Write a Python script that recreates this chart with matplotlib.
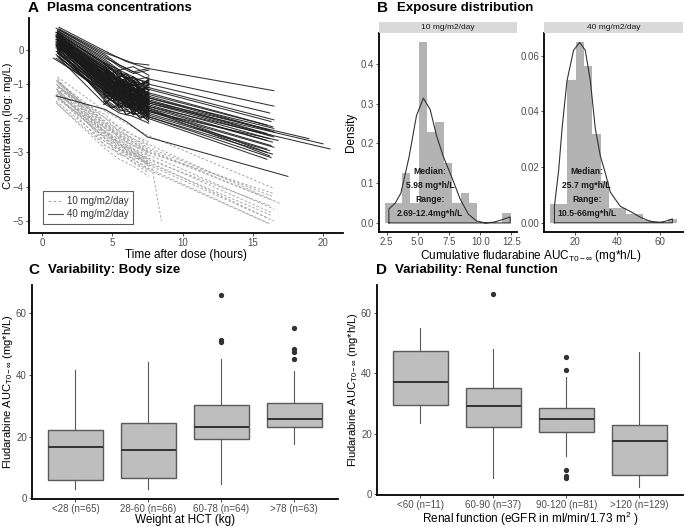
import numpy as np
import matplotlib.pyplot as plt
from matplotlib.lines import Line2D

plt.rcParams['font.family'] = ['Liberation Sans', 'DejaVu Sans']
plt.rcParams['mathtext.fontset'] = 'custom'
plt.rcParams['mathtext.rm'] = 'Liberation Sans'
plt.rcParams['mathtext.it'] = 'Liberation Sans:italic'

# ---- Panel A: concentration-time profiles ----
# 40 mg/m2/day, long profiles: t0, c0, c(4.5h), c(6h), c(7.5h), t_end, c_end
black_long = [
    (1.2, 0.65, -0.05, -0.35, -0.55, 16.5, -1.20),
    (1.1, 0.55, -0.25, -0.55, -0.85, 16.5, -1.65),
    (1.0, 0.50, -0.40, -0.70, -1.00, 16.2, -1.85),
    (1.1, 0.50, -0.45, -0.80, -1.10, 16.5, -2.05),
    (1.1, 0.45, -0.50, -0.85, -1.15, 16.3, -2.10),
    (1.2, 0.40, -0.55, -0.95, -1.25, 16.0, -2.20),
    (1.1, 0.35, -0.65, -1.00, -1.30, 16.4, -2.25),
    (1.2, 0.25, -0.70, -1.10, -1.40, 16.5, -2.30),
    (1.0, 0.30, -0.70, -1.05, -1.35, 16.2, -2.35),
    (1.1, 0.30, -0.75, -1.15, -1.40, 16.5, -2.40),
    (1.2, 0.25, -0.80, -1.20, -1.45, 16.0, -2.45),
    (1.1, 0.20, -0.85, -1.25, -1.50, 16.3, -2.50),
    (1.0, 0.15, -0.90, -1.30, -1.55, 16.5, -2.55),
    (1.1, 0.10, -0.95, -1.30, -1.60, 16.2, -2.60),
    (1.2, 0.05, -1.00, -1.35, -1.65, 16.0, -2.65),
    (1.1, 0.10, -1.00, -1.45, -1.80, 16.8, -2.65),
    (1.1, 0.00, -1.05, -1.40, -1.70, 16.4, -2.70),
    (1.0, -0.05, -1.10, -1.45, -1.75, 16.3, -2.80),
    (1.1, -0.10, -1.15, -1.50, -1.80, 16.5, -2.85),
    (1.2, -0.15, -1.20, -1.55, -1.85, 16.0, -2.90),
    (1.1, -0.20, -1.25, -1.60, -1.90, 16.2, -2.95),
    (1.1, 0.15, -0.95, -1.35, -1.70, 16.0, -3.00),
    (1.0, -0.25, -1.30, -1.65, -1.95, 16.4, -3.05),
    (1.1, 0.35, -0.90, -1.40, -1.75, 16.2, -3.10),
    (0.8, -0.25, -1.20, -1.60, -1.95, 16.3, -3.15),
    (1.2, 0.20, -1.10, -1.60, -2.00, 16.0, -3.20),
    (1.1, 0.45, -0.80, -1.20, -1.50, 19.0, -2.60),
    (1.0, 0.40, -0.85, -1.25, -1.55, 20.0, -2.75),
    (1.1, 0.30, -0.95, -1.35, -1.65, 20.5, -2.90),
    (1.0, -1.35, -1.75, -2.10, -2.55, 17.5, -3.70),
]
# 40 mg/m2/day, profiles sampled to ~8 h: t0, c0, c(4.5h), c(5.5h), c(6.5h), c(7.6h)
black_short = [
    (1.1, 0.45, -0.60, -0.90, -1.20, -1.10),
    (1.0, 0.30, -0.80, -1.00, -1.40, -1.30),
    (1.2, 0.20, -0.90, -1.30, -1.20, -1.60),
    (1.1, 0.05, -1.00, -1.20, -1.60, -1.50),
    (1.0, 0.40, -0.50, -0.90, -0.80, -1.20),
    (1.1, -0.10, -1.20, -1.50, -1.40, -1.80),
    (1.2, 0.35, -0.70, -1.10, -1.30, -1.00),
    (1.0, 0.25, -0.60, -1.00, -0.90, -1.40),
    (1.1, 0.00, -1.10, -1.40, -1.70, -1.60),
    (1.1, 0.15, -0.70, -1.20, -1.00, -1.30),
    (1.0, 0.50, -0.40, -0.70, -0.90, -0.80),
    (1.2, -0.20, -1.30, -1.70, -1.60, -2.00),
    (1.1, 0.10, -0.90, -1.00, -1.30, -1.70),
    (1.0, 0.35, -0.80, -1.30, -1.10, -1.50),
    (1.1, -0.05, -1.40, -1.60, -1.90, -1.80),
    (1.2, 0.30, -0.55, -1.00, -1.20, -1.10),
    (1.0, 0.20, -1.00, -1.10, -1.50, -1.40),
    (1.1, 0.40, -0.90, -1.20, -1.40, -1.90),
    (1.1, 0.55, -0.30, -0.60, -0.50, -0.75),
    (1.0, 0.10, -1.50, -1.80, -1.70, -2.10),
    (1.2, 0.60, -0.10, -0.25, -0.40, -0.45),
    (1.1, 0.25, -1.20, -1.40, -1.30, -1.70),
    (1.0, 0.62, -0.20, -0.50, -0.70, -0.60),
    (1.1, 0.48, -0.45, -0.75, -0.95, -1.05),
    (1.2, 0.42, -0.65, -0.85, -1.15, -1.25),
    (1.0, 0.38, -0.75, -1.05, -0.95, -1.35),
    (1.1, 0.28, -0.85, -1.15, -1.45, -1.35),
    (1.2, 0.18, -0.95, -1.25, -1.15, -1.55),
    (1.0, 0.12, -1.05, -1.35, -1.55, -1.45),
    (1.1, 0.02, -1.15, -1.45, -1.35, -1.75),
    (1.2, -0.08, -1.25, -1.55, -1.75, -1.65),
    (1.0, -0.15, -1.35, -1.65, -1.55, -1.95),
    (1.1, 0.52, -0.35, -0.65, -0.85, -0.95),
    (1.2, 0.32, -0.55, -0.95, -1.05, -0.95),
    (1.0, 0.22, -0.75, -0.95, -1.25, -1.15),
    (1.1, 0.12, -0.85, -1.05, -1.35, -1.25),
    (1.2, 0.08, -1.05, -1.25, -1.45, -1.65),
    (1.0, 0.44, -0.65, -1.15, -0.95, -1.45),
    (1.1, 0.36, -0.95, -1.35, -1.15, -1.55),
    (1.2, 0.26, -1.15, -1.45, -1.65, -1.85),
    (1.0, 0.16, -1.25, -1.35, -1.65, -1.55),
    (1.1, -0.02, -1.45, -1.75, -1.85, -2.05),
    (1.2, 0.58, -0.15, -0.45, -0.65, -0.55),
    (1.0, 0.05, -0.60, -0.85, -1.05, -0.95),
    (1.1, 0.30, -1.05, -1.20, -1.55, -1.85),
    (1.2, -0.25, -1.60, -1.85, -1.95, -2.15),
]
# 40 mg/m2/day, noisy samples inside the 4.4-7.6 h window
dense_times = [4.4, 5.0, 5.5, 6.0, 6.5, 7.0, 7.6]
black_dense = [
    (-0.50, -0.70, -0.60, -0.90, -0.80, -1.00, -0.90),
    (-0.60, -0.90, -0.80, -1.10, -1.00, -1.20, -1.10),
    (-0.80, -0.70, -1.00, -0.90, -1.20, -1.10, -1.30),
    (-0.90, -1.10, -1.00, -1.30, -1.20, -1.40, -1.30),
    (-1.00, -0.90, -1.20, -1.10, -1.40, -1.30, -1.50),
    (-1.10, -1.30, -1.20, -1.50, -1.40, -1.60, -1.50),
    (-1.20, -1.10, -1.40, -1.30, -1.60, -1.50, -1.70),
    (-1.30, -1.50, -1.40, -1.70, -1.60, -1.80, -1.70),
    (-1.40, -1.30, -1.60, -1.50, -1.80, -1.70, -1.90),
    (-1.50, -1.70, -1.60, -1.90, -1.80, -2.00, -1.90),
    (-0.70, -1.00, -0.80, -1.20, -0.90, -1.30, -1.00),
    (-1.10, -0.90, -1.30, -1.00, -1.50, -1.20, -1.60),
    (-0.60, -0.80, -1.00, -0.80, -1.10, -1.30, -1.20),
    (-1.20, -1.40, -1.10, -1.60, -1.30, -1.70, -1.40),
    (-0.90, -1.20, -1.40, -1.20, -1.50, -1.30, -1.80),
    (-1.60, -1.40, -1.70, -1.50, -1.90, -1.60, -2.00),
    (-0.40, -0.60, -0.80, -0.70, -0.95, -1.10, -0.85),
    (-1.00, -1.30, -1.10, -1.40, -1.20, -1.60, -1.50),
    (-1.30, -1.10, -1.50, -1.30, -1.70, -1.40, -1.80),
    (-0.80, -1.10, -0.90, -1.30, -1.10, -1.40, -1.60),
]
# 10 mg/m2/day, long profiles: t0, c0, c(4.5h), c(7.5h), t_end, c_end
grey_long = [
    (1.1, -0.80, -1.80, -2.50, 16.5, -4.05),
    (1.0, -0.90, -2.00, -2.75, 17.0, -4.50),
    (1.2, -1.00, -2.10, -2.85, 16.5, -4.30),
    (1.1, -1.05, -2.20, -2.95, 16.4, -4.40),
    (1.0, -1.15, -2.30, -3.05, 16.5, -4.65),
    (1.1, -1.20, -2.40, -3.15, 16.3, -4.75),
    (1.2, -1.30, -2.50, -3.25, 16.0, -4.90),
    (1.1, -1.40, -2.60, -3.35, 16.5, -5.00),
    (1.0, -1.50, -2.70, -3.45, 16.3, -5.10),
    (1.1, -1.10, -2.25, -3.00, 16.5, -4.20),
    (1.2, -0.95, -2.15, -2.90, 15.5, -4.25),
    (1.1, -1.25, -2.45, -3.20, 16.2, -4.55),
    (1.0, -1.35, -2.55, -3.30, 16.4, -4.85),
    (1.1, -1.60, -2.80, -3.50, 16.0, -5.05),
]
# 10 mg/m2/day, profiles sampled to ~8 h
grey_short = [
    (1.1, -0.90, -2.20, -2.50, -2.70, -3.00),
    (1.0, -1.00, -2.40, -2.60, -3.00, -3.20),
    (1.2, -1.10, -2.00, -2.40, -2.60, -2.80),
    (1.1, -1.20, -2.60, -2.90, -3.10, -3.40),
    (1.0, -1.30, -2.30, -2.80, -2.90, -3.30),
    (1.1, -0.85, -2.50, -2.70, -3.20, -3.10),
    (1.2, -1.40, -2.80, -3.00, -3.30, -3.60),
    (1.1, -1.05, -2.10, -2.60, -2.80, -3.00),
    (1.0, -1.55, -2.90, -3.20, -3.40, -3.70),
    (1.1, -0.95, -2.30, -2.50, -2.90, -3.10),
    (1.2, -1.25, -2.70, -2.90, -3.20, -3.50),
    (1.1, -1.45, -2.40, -2.90, -3.10, -3.30),
    (1.0, -1.15, -1.90, -2.30, -2.50, -2.70),
    (1.1, -1.35, -2.60, -3.10, -3.00, -3.40),
]
grey_drop_t = [1.1, 4.5, 6.0, 7.8, 8.5]
grey_drop_c = [-1.2, -2.4, -2.9, -3.4, -5.0]

# ---- Panel B: histograms + density curves ----
hist10_edges = np.linspace(2.40, 12.45, 16)
hist10_dens = [0.05, 0.05, 0.125, 0.05, 0.455, 0.228, 0.253, 0.152,
               0.05, 0.075, 0.05, 0.0, 0.0, 0.0, 0.025]
kde10_x = [2.69, 3.2, 3.65, 4.3, 4.9, 5.45, 6.0, 6.5, 7.05, 7.7, 8.4, 9.05,
           9.7, 10.4, 11.1, 11.75, 12.2, 12.4]
kde10_y = [0.035, 0.05, 0.075, 0.165, 0.27, 0.314, 0.285, 0.22, 0.167, 0.117,
           0.06, 0.022, 0.005, 0.0, 0.002, 0.008, 0.013, 0.015]
hist40_edges = np.linspace(8.52, 67.98, 16)
hist40_dens = [0.0068, 0.0068, 0.0512, 0.0648, 0.0565, 0.0318, 0.0149, 0.0052,
               0.0052, 0.003, 0.003, 0.001, 0.0, 0.0, 0.0014]
kde40_x = [10.5, 12.5, 14.1, 16.4, 19.5, 22.4, 25.0, 27.4, 29.7, 32.1, 34.4,
           36.8, 41.5, 46.2, 50.9, 55.6, 60.3, 63.0, 66.0]
kde40_y = [0.006, 0.019, 0.034, 0.051, 0.062, 0.0648, 0.062, 0.051, 0.034,
           0.024, 0.018, 0.011, 0.0059, 0.0041, 0.002, 0.0005, 0.0002, 0.0006, 0.0014]
stat_text = ["Median:\n5.98 mg*h/L\nRange:\n2.69-12.4mg*h/L",
             "Median:\n25.7 mg*h/L\nRange:\n10.5-66mg*h/L"]
stat_median = [5.98, 25.7]
dose_labels = ["10 mg/m2/day", "40 mg/m2/day"]

# ---- Panels C, D: box plot statistics ----
weight_labels = ["<28 (n=65)", "28-60 (n=66)", "60-78 (n=64)", ">78 (n=63)"]
# whislo, q1, median, q3, whishi
weight_stats = [(2.9, 6.1, 16.7, 22.1, 41.7),
                (3.1, 6.5, 15.8, 24.5, 44.1),
                (4.5, 19.4, 23.3, 30.3, 45.2),
                (17.6, 23.3, 25.9, 31.0, 41.3)]
weight_out = [[], [], [66.0, 51.2, 50.6], [55.3, 48.3, 47.6, 45.2]]

renal_labels = ["<60 (n=11)", "60-90 (n=37)", "90-120 (n=81)", ">120 (n=129)"]
renal_stats = [(23.7, 29.7, 37.1, 47.4, 55.1),
               (5.5, 22.3, 29.1, 35.3, 48.2),
               (12.6, 20.5, 24.8, 28.7, 38.8),
               (2.6, 6.3, 17.6, 22.8, 47.0)]
renal_out = [[], [66.2], [45.3, 41.2, 8.2, 6.1, 5.5], []]

TXT = '#4D4D4D'
AUC = r'AUC$_{\mathregular{T0-\infty}}$'


def style(ax):
    for s in ['top', 'right']:
        ax.spines[s].set_visible(False)
    for s in ['left', 'bottom']:
        ax.spines[s].set_linewidth(1.3)
        ax.spines[s].set_color('black')
    ax.tick_params(labelsize=7, colors='#333333', labelcolor=TXT, length=2.5, width=0.6, pad=1)


fig = plt.figure(figsize=(6.85, 5.27), dpi=100)

# ---------- A ----------
axA = fig.add_axes([0.0423, 0.5579, 0.458, 0.408])
dash = (0, (2.5, 2))
for t0, c0, c45, c75, te, ce in grey_long:
    axA.plot([t0, 4.5, 7.5, te], [c0, c45, c75, ce], color='#A6A6A6', lw=0.7, ls=dash)
for t0, c0, c45, c55, c65, c75 in grey_short:
    axA.plot([t0, 4.5, 5.5, 6.5, 7.6], [c0, c45, c55, c65, c75], color='#A6A6A6', lw=0.7, ls=dash)
axA.plot(grey_drop_t, grey_drop_c, color='#A6A6A6', lw=0.7, ls=dash)
for t0, c0, c45, c6, c75, te, ce in black_long:
    axA.plot([t0, 4.5, 6.0, 7.5, te], [c0, c45, c6, c75, ce], color='#1a1a1a', lw=0.75, alpha=0.9)
for t0, c0, c45, c55, c65, c75 in black_short:
    axA.plot([t0, 4.5, 5.5, 6.5, 7.6], [c0, c45, c55, c65, c75], color='#1a1a1a', lw=0.75, alpha=0.9)
for row in black_dense:
    axA.plot(dense_times, row, color='#1a1a1a', lw=0.9)
axA.set_xlim(-0.93, 21.4)
axA.set_ylim(-5.35, 0.92)
axA.set_xticks([0, 5, 10, 15, 20])
axA.set_yticks([0, -1, -2, -3, -4, -5])
style(axA)
axA.set_xlabel("Time after dose (hours)", fontsize=8.5, labelpad=1)
axA.set_ylabel("Concentration (log: mg/L)", fontsize=8, labelpad=0)
handles = [Line2D([], [], color='#A6A6A6', lw=0.8, ls=dash),
           Line2D([], [], color='#555555', lw=0.8)]
leg = axA.legend(handles, dose_labels, loc='lower left', bbox_to_anchor=(0.03, 0.02),
                 fontsize=7, frameon=True, fancybox=False, handlelength=1.5,
                 handletextpad=0.4, borderpad=0.5, labelspacing=0.3)
leg.get_frame().set_edgecolor('#333333')
leg.get_frame().set_linewidth(0.8)
for t in leg.get_texts():
    t.set_color('#333333')

# ---------- B ----------
b_axes = [fig.add_axes([0.5533, 0.5598, 0.2015, 0.3776]),
          fig.add_axes([0.7942, 0.5598, 0.2029, 0.3776])]
hists = [(hist10_edges, hist10_dens, kde10_x, kde10_y), (hist40_edges, hist40_dens, kde40_x, kde40_y)]
lims = [((1.9, 12.95), (-0.0228, 0.478), [2.5, 5.0, 7.5, 10.0, 12.5], [0, 0.1, 0.2, 0.3, 0.4], '%.1f'),
        ((5.6, 71.0), (-0.0033, 0.0682), [20, 40, 60], [0, 0.02, 0.04, 0.06], '%.2f')]
for i, ax in enumerate(b_axes):
    edges, dens, kx, ky = hists[i]
    ax.bar(edges[:-1], dens, width=np.diff(edges), align='edge', color='#B3B3B3', lw=0)
    ax.plot([kx[0]] + kx + [kx[-1], kx[0]], [0] + ky + [0, 0], color='#333333', lw=0.8)
    ax.set_xlim(*lims[i][0])
    ax.set_ylim(*lims[i][1])
    ax.set_xticks(lims[i][2])
    ax.set_yticks(lims[i][3])
    ax.yaxis.set_major_formatter(plt.FormatStrFormatter(lims[i][4]))
    style(ax)
    ax.text(stat_median[i], lims[i][1][1] * 0.16, stat_text[i], ha='center', va='center',
            fontsize=6.2, fontweight='bold', linespacing=1.75, color='#1a1a1a')
    pos = ax.get_position()
    strip = fig.add_axes([pos.x0, 0.9374, pos.width, 0.0209])
    strip.set_facecolor('#D9D9D9')
    strip.set_xticks([])
    strip.set_yticks([])
    for s in strip.spines.values():
        s.set_visible(False)
    strip.text(0.5, 0.5, dose_labels[i], ha='center', va='center', fontsize=6, color='#1a1a1a',
               transform=strip.transAxes)
b_axes[0].set_ylabel("Density", fontsize=8.5, labelpad=3)
fig.text(0.775, 0.514, "Cumulative fludarabine " + AUC + " (mg*h/L)", ha='center', va='center', fontsize=8.5)

# ---------- C, D ----------
def boxpanel(rect, labels, stats, outs, xlabel):
    ax = fig.add_axes(rect)
    bstats = []
    for lab, (lo, q1, med, q3, hi), fl in zip(labels, stats, outs):
        bstats.append(dict(label=lab, whislo=lo, q1=q1, med=med, q3=q3, whishi=hi, fliers=fl))
    ax.bxp(bstats, positions=[1, 2, 3, 4], widths=0.75, patch_artist=True, showcaps=False,
           boxprops=dict(facecolor='#BEBEBE', edgecolor='#5a5a5a', lw=1.0),
           medianprops=dict(color='#333333', lw=1.4),
           whiskerprops=dict(color='#5a5a5a', lw=0.8),
           flierprops=dict(marker='o', markersize=2.8, markerfacecolor='#333333',
                           markeredgecolor='#333333'))
    ax.set_xlim(0.4, 4.6)
    ax.set_ylim(-0.3, 69.2)
    ax.set_yticks([0, 20, 40, 60])
    style(ax)
    ax.set_xlabel(xlabel, fontsize=8.5, labelpad=0)
    ax.set_ylabel("Fludarabine " + AUC + " (mg*h/L)", fontsize=8, labelpad=0.5)
    return ax

boxpanel([0.0463, 0.0526, 0.4472, 0.4066], weight_labels, weight_stats, weight_out, "Weight at HCT (kg)")
boxpanel([0.5499, 0.0600, 0.4472, 0.3992], renal_labels, renal_stats, renal_out,
         "Renal function (eGFR in ml/min/1.73 m$^{\\mathregular{2}}$ )")

# ---------- panel titles ----------
titles = [("A", "Plasma concentrations", 0.040, 0.984),
          ("B", "Exposure distribution", 0.551, 0.984),
          ("C", "Variability: Body size", 0.042, 0.488),
          ("D", "Variability: Renal function", 0.549, 0.488)]
for letter, title, x, y in titles:
    fig.text(x, y, letter, fontsize=11, fontweight='bold', va='center')
    fig.text(x + 0.028, y, title, fontsize=9.5, fontweight='bold', va='center')

fig.savefig("out.png", dpi=100)
